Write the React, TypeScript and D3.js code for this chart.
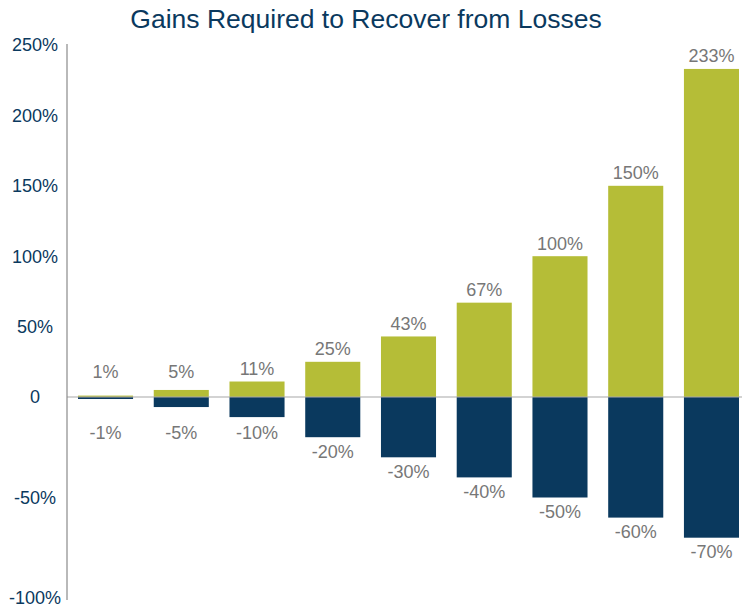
import React from "react";
import * as d3 from "d3";

const losses = [-1, -5, -10, -20, -30, -40, -50, -60, -70];
const gains = [1, 5, 11, 25, 43, 67, 100, 150, 233];
const yTicks = [250, 200, 150, 100, 50, 0, -50, -100];
const yTickLabels = ["250%", "200%", "150%", "100%", "50%", "0", "-50%", "-100%"];

const W = 742, H = 606;
const GREEN = "#b5bd37";
const NAVY = "#0a395e";
const FONT = "'Liberation Sans', Arial, Helvetica, sans-serif";

export default function App() {
  const axisX = 67;
  // the source chart uses a different scale below zero than above it
  const y = d3.scaleLinear().domain([-100, 0, 250]).range([598, 397, 45]);
  const x = d3.scaleBand<number>()
    .domain(d3.range(gains.length))
    .range([78, 739])
    .paddingInner(0.273)
    .paddingOuter(0)
    .align(0);
  const y0 = y(0);

  return (
    <svg width={W} height={H} style={{ position: "absolute", left: 0, top: 0, background: "#fff" }} fontFamily={FONT}>
      <text x={366} y={28} textAnchor="middle" fontSize={26.5} fill={NAVY}>Gains Required to Recover from Losses</text>

      {yTicks.map((t, i) => (
        <text key={t} x={35} y={y(t)} dy="0.35em" textAnchor="middle" fontSize={18} fill={NAVY}>{yTickLabels[i]}</text>
      ))}

      {gains.map((g, i) => (
        <rect key={"g" + i} x={x(i)} y={y(g)} width={x.bandwidth()} height={y0 - y(g)} fill={GREEN} />
      ))}
      {losses.map((l, i) => (
        <rect key={"l" + i} x={x(i)} y={y0} width={x.bandwidth()} height={y(l) - y0} fill={NAVY} />
      ))}

      <line x1={axisX} x2={W} y1={y0} y2={y0} stroke="#a8a8a8" strokeWidth={1.2} />
      <line x1={axisX} x2={axisX} y1={44} y2={600} stroke="#8a8a8a" strokeWidth={1.2} />

      {gains.map((g, i) => (
        <text key={"gl" + i} x={(x(i) ?? 0) + x.bandwidth() / 2} y={Math.min(y(g) - 13, y0 - 25)} dy="0.35em"
          textAnchor="middle" fontSize={18} fill="#777">{g}%</text>
      ))}
      {losses.map((l, i) => (
        <text key={"ll" + i} x={(x(i) ?? 0) + x.bandwidth() / 2} y={Math.max(y(l) + 14, y0 + 36)} dy="0.35em"
          textAnchor="middle" fontSize={18} fill="#777">{l}%</text>
      ))}
    </svg>
  );
}
